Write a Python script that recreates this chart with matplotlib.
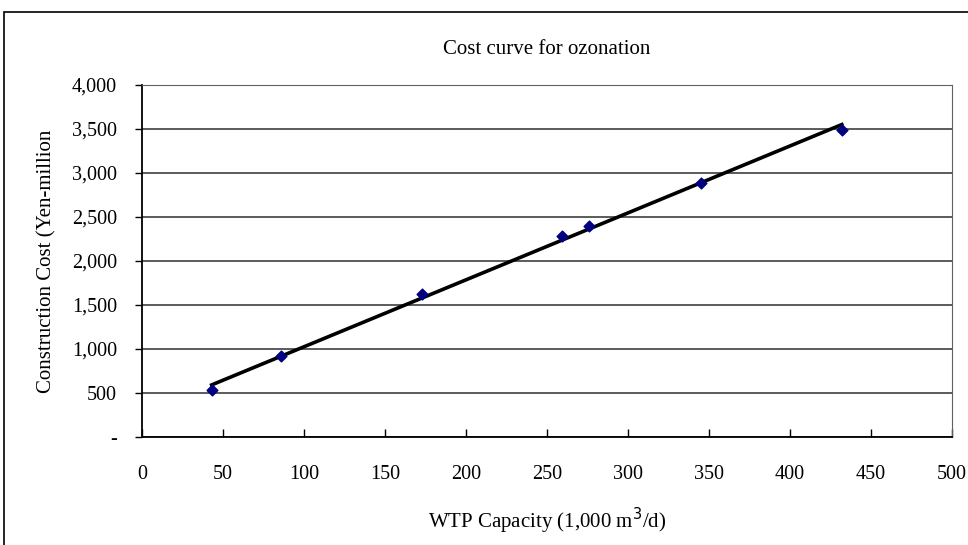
import matplotlib.pyplot as plt
import numpy as np
from matplotlib.patches import Rectangle
from matplotlib.ticker import FuncFormatter

# WTP capacity (1,000 m3/d) vs construction cost (Yen-million)
capacity = [43, 86, 173, 259, 276, 345, 432]
cost = [530, 920, 1620, 2280, 2400, 2890, 3490]

plt.rcParams['font.family'] = 'Liberation Serif'

fig = plt.figure(figsize=(9.68, 5.45), dpi=100)
ax = fig.add_axes([142 / 968, 108 / 545, 810 / 968, 352 / 545])

# chart frame
fig.patches.append(Rectangle((4 / 968, -0.1), 1.2, 1 - 12 / 545 + 0.1,
                             transform=fig.transFigure, fill=False,
                             edgecolor='black', linewidth=1.2))

# linear trend line over the data range
x = np.array(capacity, dtype=float)
y = np.array(cost, dtype=float)
slope, intercept = np.polyfit(x, y, 1)
xs = np.array([x.min(), x.max()])
ax.plot(xs, slope * xs + intercept, color='black', linewidth=2.6, zorder=3)

ax.scatter(x, y, marker='D', s=30, color='#000080', zorder=4)

ax.set_xlim(0, 500)
ax.set_ylim(0, 4000)
ax.set_xticks(np.arange(0, 501, 50))
ax.set_yticks(np.arange(0, 4001, 500))
ax.yaxis.set_major_formatter(FuncFormatter(lambda v, p: '-' if v == 0 else f'{int(v):,}'))
ax.yaxis.grid(True, color='#404040', linewidth=1.2)
ax.set_axisbelow(True)

ax.tick_params(axis='x', direction='in', length=6, width=1, labelsize=14.5, pad=20)
ax.tick_params(axis='y', direction='out', length=5, width=1, labelsize=14.5, pad=13)
for s in ['left', 'bottom']:
    ax.spines[s].set_linewidth(1.3)
for s in ['top', 'right']:
    ax.spines[s].set_color('#606060')

ax.set_title('Cost curve for ozonation', fontsize=15, pad=22)
ax.set_xlabel('WTP Capacity (1,000 m$^3$/d)', fontsize=15, labelpad=16)
ax.set_ylabel('Construction Cost (Yen-million', fontsize=15, labelpad=11)

fig.savefig('out.png', dpi=100)
